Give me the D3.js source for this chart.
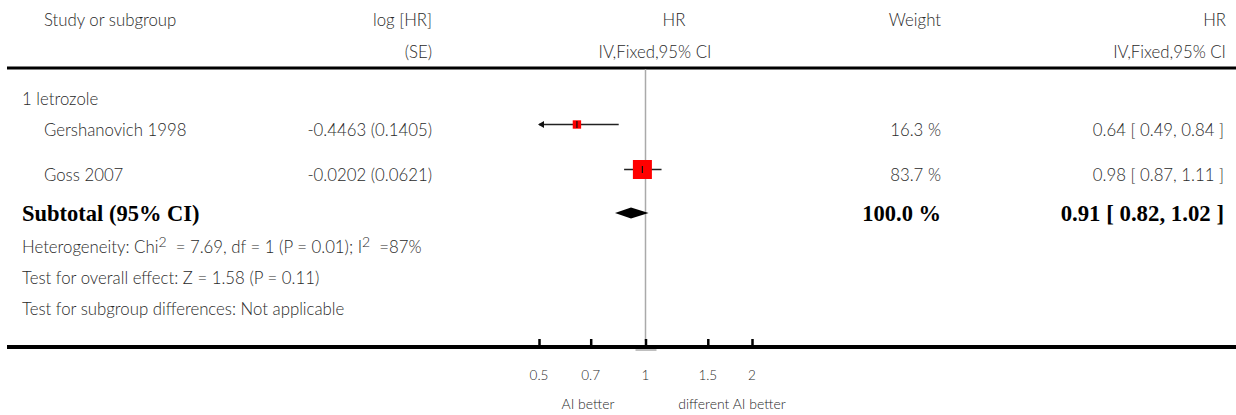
<!DOCTYPE html>
<html><head><meta charset="utf-8">
<script src="https://cdn.jsdelivr.net/npm/d3@7"></script>
<style>
html,body{margin:0;padding:0;background:#fff;}
svg text{font-family:Lato,"Open Sans",sans-serif;fill:#2a2a2a;font-weight:300;}
</style></head>
<body><svg id="c" width="1236" height="415"></svg>
<script>
// ---- data ----
const subgroup = "1 letrozole";
const studies = ["Gershanovich 1998", "Goss 2007"];
const logHR = ["-0.4463", "-0.0202"];
const seHR = ["0.1405", "0.0621"];
const weights = [16.3, 83.7];
const hr = [0.64, 0.98];
const ciLow = [0.49, 0.87];
const ciHigh = [0.84, 1.11];
const totalHR = 0.91, totalLow = 0.82, totalHigh = 1.02, totalWeight = 100.0;
const tickValues = [0.5, 0.7, 1, 1.5, 2];
const tickLabels = ["0.5", "0.7", "1", "1.5", "2"];
const leftLabel = "AI better", rightLabel = "different AI better";
const chi2 = "7.69", df = "1", pHet = "0.01", i2 = "87";
const overallText = "Test for overall effect: Z = 1.58 (P = 0.11)";
const subgroupText = "Test for subgroup differences: Not applicable";

// ---- layout ----
const svg = d3.select("#c");
const x = d3.scaleLog().domain([0.5, 2]).range([539, 752]);
const rowY = [124.5, 169.5];
const fs = 16.8;
const fmt2 = d3.format(".2f");

function txt(s, xx, y, anchor, opts = {}) {
  const t = svg.append("text").attr("x", xx).attr("y", y)
    .attr("text-anchor", anchor || "start")
    .style("font-size", (opts.size || fs) + "px").text(s);
  if (opts.bold) t.style("font-family", "'Liberation Serif','Times New Roman',serif").style("font-weight", "bold").style("fill", "#000");
  return t;
}

// header
txt("Study or subgroup", 44, 26);
txt("log [HR]", 432, 26, "end");
txt("(SE)", 432, 58, "end");
txt("HR", 674, 26, "middle");
txt("IV,Fixed,95% CI", 655, 58, "middle");
txt("Weight", 941, 26, "end");
txt("HR", 1226, 26, "end");
txt("IV,Fixed,95% CI", 1226, 58, "end");

svg.append("line").attr("x1", 7).attr("x2", 1236).attr("y1", 68).attr("y2", 68)
  .attr("stroke", "#000").attr("stroke-width", 3);

// vertical no-effect line
svg.append("line").attr("x1", x(1)).attr("x2", x(1)).attr("y1", 69).attr("y2", 341)
  .attr("stroke", "#aaa").attr("stroke-width", 1.5);

txt(subgroup, 22, 105);

// studies
studies.forEach((s, i) => {
  const y = rowY[i];
  txt(s, 44, y + 11);
  txt(logHR[i] + " (" + seHR[i] + ")", 432, y + 11, "end");
  txt(weights[i].toFixed(1) + " %", 941, y + 11, "end");
  txt(fmt2(hr[i]) + " [ " + fmt2(ciLow[i]) + ", " + fmt2(ciHigh[i]) + " ]", 1224, y + 11, "end");
  const lo = Math.max(ciLow[i], x.domain()[0]);
  const hi = Math.min(ciHigh[i], x.domain()[1]);
  svg.append("line").attr("x1", x(lo)).attr("x2", x(hi)).attr("y1", y).attr("y2", y)
    .attr("stroke", "#222").attr("stroke-width", 1.6);
  if (ciLow[i] < x.domain()[0]) {
    const ax = x(x.domain()[0]);
    svg.append("path").attr("d", `M${ax - 1},${y} L${ax + 5},${y - 3.5} L${ax + 5},${y + 3.5} Z`).attr("fill", "#111");
  }
  const side = 2.077 * Math.sqrt(weights[i]);
  svg.append("rect").attr("x", x(hr[i]) - side / 2).attr("y", y - side / 2)
    .attr("width", side).attr("height", side).attr("fill", "#ff0000");
  svg.append("line").attr("x1", x(hr[i])).attr("x2", x(hr[i])).attr("y1", y - 3.5).attr("y2", y + 3.5)
    .attr("stroke", "#111").attr("stroke-width", 1.2);
});

// subtotal
const dy = 213;
txt("Subtotal (95% CI)", 22, 221, "start", { bold: true, size: 22.5 });
txt(totalWeight.toFixed(1) + " %", 941, 221, "end", { bold: true, size: 22.5 });
txt(fmt2(totalHR) + " [ " + fmt2(totalLow) + ", " + fmt2(totalHigh) + " ]", 1224, 221, "end", { bold: true, size: 22.8 });
svg.append("path")
  .attr("d", `M${x(totalLow)},${dy} L${x(totalHR)},${dy - 5.5} L${x(totalHigh)},${dy} L${x(totalHR)},${dy + 5.5} Z`)
  .attr("fill", "#000");

// heterogeneity with superscripts
const het = txt("", 22, 253);
het.append("tspan").text("Heterogeneity: Chi");
het.append("tspan").attr("dy", -6).style("font-size", "14px").text("2");
het.append("tspan").attr("dy", 6).text("  = " + chi2 + ", df = " + df + " (P = " + pHet + "); I");
het.append("tspan").attr("dy", -6).style("font-size", "14px").text("2");
het.append("tspan").attr("dy", 6).text("  =" + i2 + "%");
het.style("white-space", "pre");
txt(overallText, 22, 284);
txt(subgroupText, 22, 315);

// axis
svg.append("line").attr("x1", 7).attr("x2", 1236).attr("y1", 347).attr("y2", 347)
  .attr("stroke", "#000").attr("stroke-width", 4);
const axis = d3.axisTop(x).tickValues(tickValues).tickSize(6).tickFormat("");
const ag = svg.append("g").attr("transform", "translate(0,345)").call(axis);
ag.select(".domain").remove();
ag.selectAll(".tick line").attr("stroke", "#000").attr("stroke-width", 2.5);
svg.append("line").attr("x1", x(1) - 10).attr("x2", x(1) + 11).attr("y1", 350).attr("y2", 350)
  .attr("stroke", "#aaa").attr("stroke-width", 1.5);
tickValues.forEach((v, i) => txt(tickLabels[i], x(v), 380, "middle", { size: 13.5 }));
txt(leftLabel, 588, 409, "middle", { size: 14 });
txt(rightLabel, 732, 409, "middle", { size: 14 });
</script></body></html>
